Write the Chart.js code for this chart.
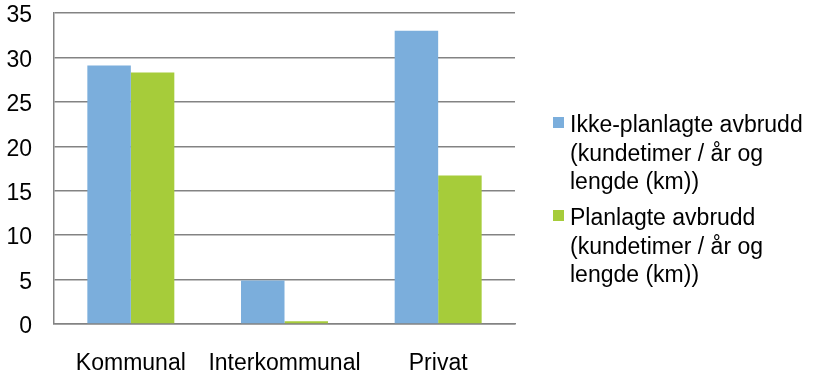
<!DOCTYPE html>
<html>
<head>
<meta charset="utf-8">
<script src="https://cdn.jsdelivr.net/npm/chart.js@4/dist/chart.umd.min.js"></script>
<style>
  html, body { margin: 0; padding: 0; background: #fff; }
  #wrap { width: 814px; height: 374px; }
</style>
</head>
<body>
<div id="wrap"><canvas id="myChart" width="814" height="374"></canvas></div>
<script>
// kategorier og verdier
const categories = ["Kommunal", "Interkommunal", "Privat"];
const ikkePlanlagt = [29.1, 4.9, 33.0];
const planlagt = [28.3, 0.3, 16.7];
const seriesNames = [
    ["Ikke-planlagte avbrudd", "(kundetimer / år og", "lengde (km))"],
    ["Planlagte avbrudd", "(kundetimer / år og", "lengde (km))"]
];
const yTicks = [0, 5, 10, 15, 20, 25, 30, 35];

const colors = ['#7BAEDC', '#A6CC3A'];
const lineColor = '#838383';
const fontFamily = '"Liberation Sans", Arial, sans-serif';
const fontSize = 23;

// egen legende til høyre, teksten går over flere linjer
const sideLegend = {
    id: 'sideLegend',
    afterDraw(chart) {
        const ctx = chart.ctx;
        const x = 553;
        const baselines = [132, 225];
        ctx.save();
        ctx.font = fontSize + 'px ' + fontFamily;
        ctx.textBaseline = 'alphabetic';
        ctx.textAlign = 'left';
        for (let i = 0; i < seriesNames.length; i++) {
            const b = baselines[i];
            ctx.fillStyle = colors[i];
            ctx.fillRect(x, b - 15, 11, 11);
            ctx.fillStyle = '#000';
            seriesNames[i].forEach((line, j) => {
                ctx.fillText(line, x + 17, b + j * 28.5);
            });
        }
        ctx.restore();
    }
};

const data = {
    labels: categories,
    datasets: [{
        label: seriesNames[0].join(' '),
        backgroundColor: colors[0],
        data: ikkePlanlagt,
    }, {
        label: seriesNames[1].join(' '),
        backgroundColor: colors[1],
        data: planlagt,
    }]
};

const config = {
    type: 'bar',
    data,
    options: {
        responsive: false,
        animation: false,
        layout: { padding: { left: 0, top: 13, right: 299, bottom: 0 } },
        datasets: {
            bar: { categoryPercentage: 0.566, barPercentage: 1.0 }
        },
        plugins: {
            legend: { display: false },
            tooltip: { enabled: false }
        },
        scales: {
            x: {
                grid: { display: false, drawTicks: false },
                border: { display: true, color: lineColor, width: 1.5 },
                ticks: {
                    color: '#000',
                    padding: 26,
                    autoSkip: false,
                    maxRotation: 0,
                    minRotation: 0,
                    font: { family: fontFamily, size: fontSize }
                },
                afterFit: (s) => {
                    s.height = 50;
                    s.paddingLeft = 0;
                    s.paddingRight = 0;
                }
            },
            y: {
                min: 0,
                max: 35,
                afterBuildTicks: (s) => { s.ticks = yTicks.map(v => ({ value: v })); },
                grid: { color: lineColor, lineWidth: 1.5, drawTicks: false },
                border: { display: true, color: lineColor, width: 1.5 },
                ticks: {
                    color: '#000',
                    padding: 22,
                    labelOffset: 3,
                    font: { family: fontFamily, size: fontSize }
                },
                afterFit: (s) => {
                    s.width = 54;
                    s.paddingTop = 0;
                    s.paddingBottom = 0;
                }
            }
        }
    },
    plugins: [sideLegend]
};

new Chart(document.getElementById('myChart'), config);
</script>
</body>
</html>
